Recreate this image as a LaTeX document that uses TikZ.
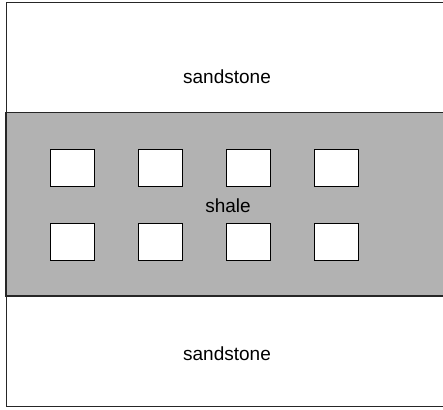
\documentclass[tikz,border=0pt]{standalone}
\usepackage{fontspec}
\setmainfont{Liberation Sans}
\begin{document}
\begin{tikzpicture}[x=1pt,y=-1pt,
  layer/.style={draw=black!85,line width=1pt},
  hole/.style={draw=black,fill=white,line width=1pt},
  lbl/.style={font=\fontsize{19}{22}\selectfont,inner sep=0pt}]
\useasboundingbox (0,0) rectangle (443,409);
\draw[layer,fill=white] (6,2.5) rectangle (448,406.5);
\draw[layer,fill=black!30,line width=1.3pt] (6,112.5) rectangle (448,296);
\foreach \i in {0,1,2,3}{
  \draw[hole] (50+88*\i,149.3) rectangle (94.3+88*\i,186.3);
  \draw[hole] (50+88*\i,223) rectangle (94.3+88*\i,260);
}
\node[lbl] (s1) at (227,77) {sandstone};
\node[lbl] (sh) at (228,206) {shale};
\node[lbl] (s2) at (227,354) {sandstone};
\end{tikzpicture}
\end{document}
